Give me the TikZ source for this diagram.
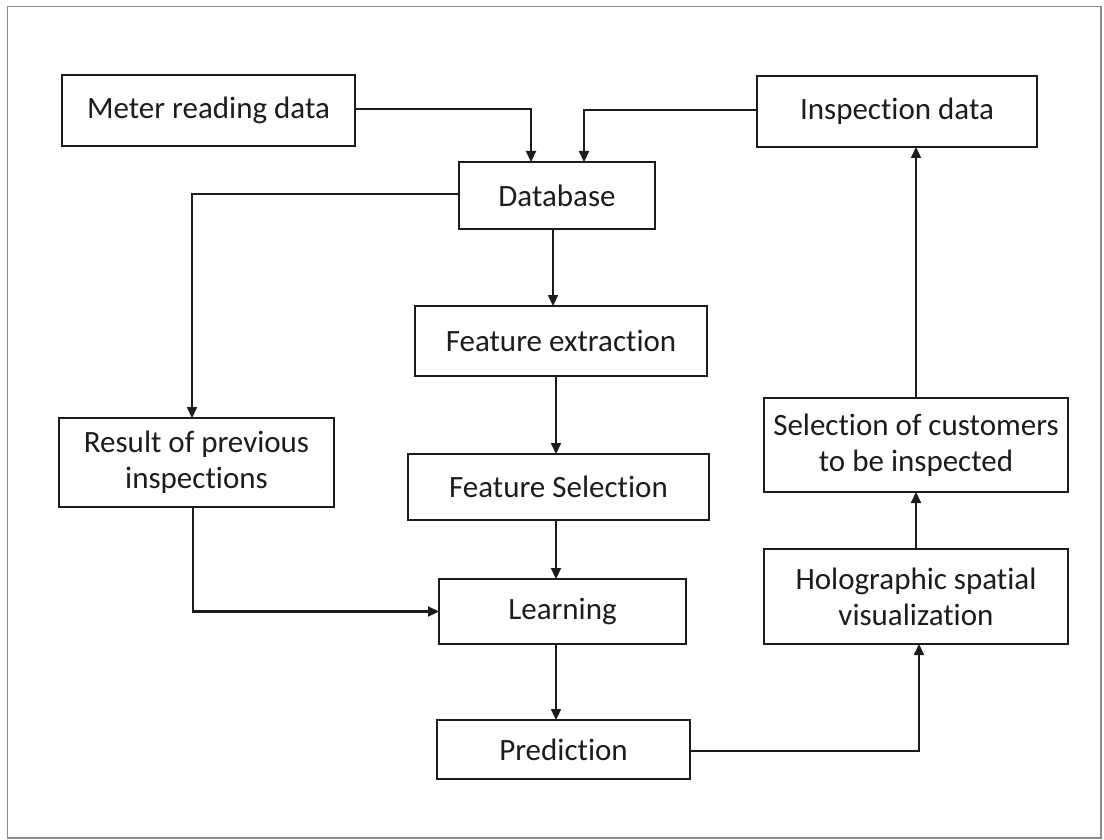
\documentclass[tikz,border=0pt]{standalone}
\usepackage{fontspec}
\setmainfont{Carlito}[Ligatures={NoCommon}]
\usetikzlibrary{arrows.meta,calc}
\definecolor{ink}{RGB}{28,28,28}
\definecolor{framegray}{RGB}{140,140,140}
\begin{document}
\begin{tikzpicture}[x=1pt,y=-1pt,
  box/.style={draw=ink,line width=2.6pt,inner sep=0pt,outer sep=0pt,align=center,
    font=\fontsize{31}{36}\selectfont,text=ink},
  arr/.style={draw=ink,line width=2.2pt,-{Triangle[length=11pt,width=10pt]}}]
\useasboundingbox (0,0) rectangle (1104,840);
\draw[framegray,line width=1.5pt] (7.5,6.5) rectangle (1101,838);
\node[box,minimum width=293pt,minimum height=71pt] (meter) at (208.5,110.5) {Meter reading data};
\node[box,minimum width=280pt,minimum height=71pt] (insp) at (897,111.5) {Inspection data};
\node[box,minimum width=196pt,minimum height=67pt] (db) at (557,195.5) {Database};
\node[box,minimum width=292pt,minimum height=70pt] (fe) at (561,341) {Feature extraction};
\node[box,minimum width=275pt,minimum height=89pt] (res) at (196.5,462.5) {Result of previous\\inspections};
\node[box,minimum width=301pt,minimum height=66pt] (fs) at (558.5,487) {Feature Selection};
\node[box,minimum width=304pt,minimum height=94pt] (sel) at (916,445) {Selection of customers\\to be inspected};
\node[box,minimum width=247pt,minimum height=65pt] (learn) at (562.5,611.5) {Learning};
\node[box,minimum width=304pt,minimum height=95pt] (holo) at (916,596.5) {Holographic spatial\\visualization};
\node[box,minimum width=253pt,minimum height=59pt] (pred) at (563.5,749.5) {Prediction};
% connectors
\draw[arr] ([yshift=1.5pt]meter.east) -| ([xshift=-26pt]db.north);
\draw[arr] ([yshift=1.5pt]insp.west) -| ([xshift=27pt]db.north);
\draw[arr] ([yshift=1.5pt]db.west) -| ([xshift=-4.5pt]res.north);
\draw[arr] ([xshift=-4pt]db.south) -- ([xshift=-4pt]db.south |- fe.north);
\draw[arr] ([xshift=-5pt]fe.south) -- ([xshift=-5pt]fe.south |- fs.north);
\draw[arr] ([xshift=-3.5pt]res.south) |- (learn.west);
\draw[arr] ([xshift=-2.5pt]fs.south) -- ([xshift=-2.5pt]fs.south |- learn.north);
\draw[arr] ([xshift=-6.5pt]learn.south) -- ([xshift=-6.5pt]learn.south |- pred.north);
\draw[arr] ([yshift=-1.5pt]pred.east) -| ([xshift=3pt]holo.south);
\draw[arr] (holo.north) -- (sel.south);
\draw[arr] (sel.north) -- (sel.north |- insp.south);
\end{tikzpicture}
\end{document}
